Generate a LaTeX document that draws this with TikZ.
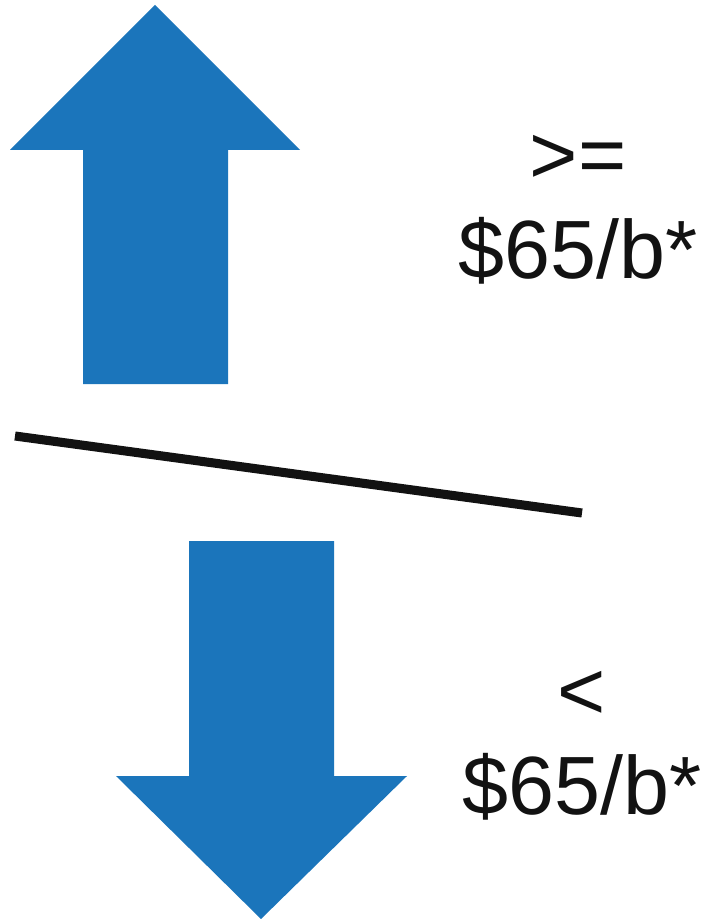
\documentclass[tikz,border=0pt]{standalone}
\usepackage{fontspec}
\setmainfont{Liberation Sans}
\definecolor{arrowblue}{HTML}{1B75BB}
\tikzset{
  bigarrow/.style={fill=arrowblue,draw=none},
  pricelabel/.style={align=center,inner sep=0pt,font=\fontsize{62}{71}\selectfont,text=black!93}
}
\begin{document}
\begin{tikzpicture}[x=0.75pt,y=-0.75pt]
\useasboundingbox (0,0) rectangle (704,919);
\fill[bigarrow] (155,5) -- (300,150) -- (228,150) -- (228,384) -- (83,384) -- (83,150) -- (10,150) -- cycle;
\fill[bigarrow] (261,919) -- (407,776) -- (334,776) -- (334,541) -- (189,541) -- (189,776) -- (116,776) -- cycle;
\coordinate (sl) at (15,436);
\coordinate (sr) at (582,513);
\draw[line width=6.8pt,black!93] (sl) -- (sr);
\node[pricelabel] (above) at (578,210) {>=\\\$65/b*};
\node[pricelabel] (below) at (582,746) {<\\\$65/b*};
\end{tikzpicture}
\end{document}
